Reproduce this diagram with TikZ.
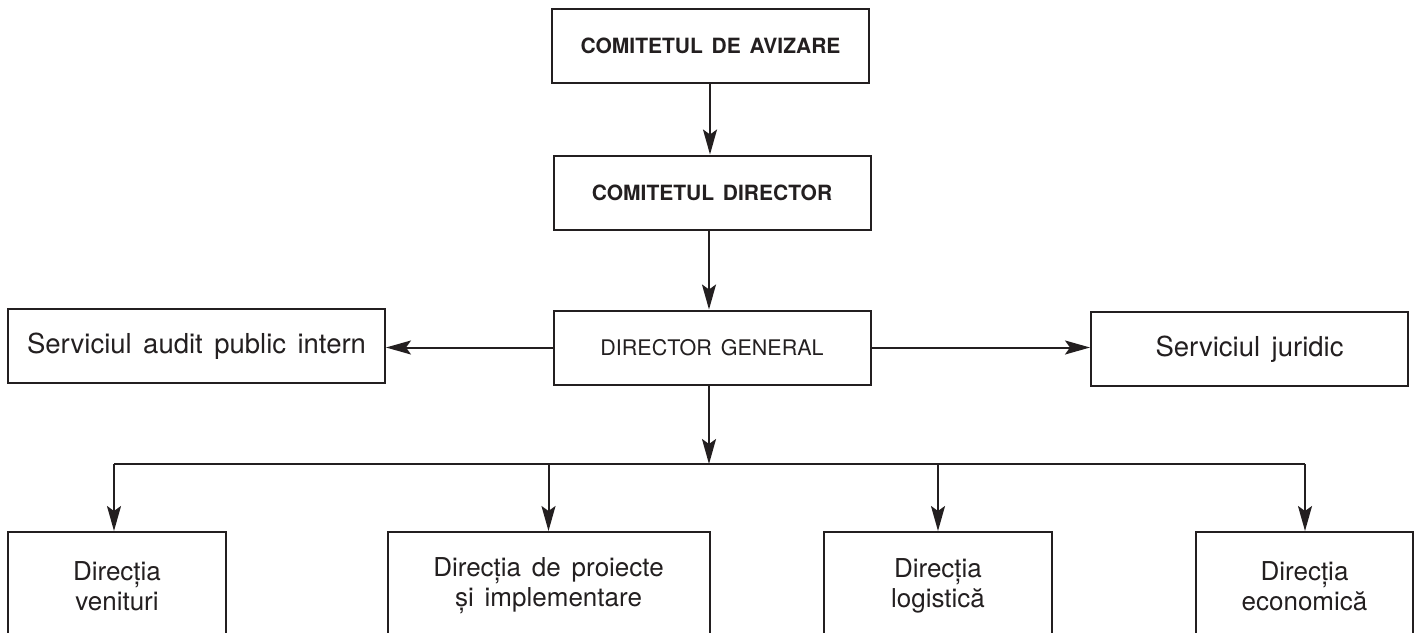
\documentclass[tikz,border=0pt]{standalone}
\usepackage{fontspec}
\setmainfont{TeX Gyre Heros}[WordSpace=1.5]
\usetikzlibrary{arrows.meta}
\definecolor{ink}{HTML}{231F20}
\begin{document}
\begin{tikzpicture}[x=1pt,y=-1pt,
  box/.style={draw=ink, line width=2pt, inner sep=0pt, align=center, text=ink},
  topbox/.style={box, minimum width=317pt, minimum height=74pt, font=\fontsize{21}{25}\selectfont\bfseries},
  sidebox/.style={box, minimum height=74pt, font=\fontsize{27.5}{32}\selectfont},
  lowbox/.style={box, minimum height=108pt, font=\fontsize{26}{30}\selectfont},
  conn/.style={draw=ink, line width=2pt},
  arr/.style={conn, -{Stealth[length=25pt,width=14pt,inset=5pt]}}]
\useasboundingbox (0,0) rectangle (1419,632);
\clip (0,0) rectangle (1419,632);
\node[topbox] (av) at (710.5,46) {COMITETUL DE AVIZARE};
\node[topbox] (cd) at (712,192.5) {COMITETUL DIRECTOR};
\node[topbox, font=\fontsize{21.5}{25}\selectfont] (dg) at (712,347.5) {DIRECTOR GENERAL};
\node[sidebox, minimum width=377pt] (au) at (196.5,346) {Serviciul audit public intern};
\node[sidebox, minimum width=317pt] (ju) at (1249.5,349) {Serviciul juridic};
\node[lowbox, minimum width=218pt] (ve) at (117,586) {Direcția\\venituri};
\node[lowbox, minimum width=322pt] (pr) at (548.5,586) {Direcția de proiecte\\și implementare};
\node[lowbox, minimum width=228pt] (lo) at (938,586) {Direcția\\logistică};
\node[lowbox, minimum width=217pt] (ec) at (1304.5,586) {Direcția\\economică};
\coordinate (bus) at (709,464);
\coordinate (busL) at (114,464);
\coordinate (busR) at (1305,464);
\coordinate (c1) at (710,0);
\coordinate (c2) at (709,0);
\draw[arr] (av.south -| c1) -- (cd.north -| c1);
\draw[arr] (cd.south -| c2) -- (dg.north -| c2);
\draw[arr] (dg.west) -- (dg.west -| au.east);
\draw[arr] (dg.east) -- (dg.east -| ju.west);
\draw[arr] (dg.south -| bus) -- (bus);
\draw[conn] (busL) -- (busR);
\draw[arr] (busL) -- (busL |- ve.north);
\draw[arr] (pr.north |- bus) -- (pr.north);
\draw[arr] (lo.north |- bus) -- (lo.north);
\draw[arr] (busR) -- (busR |- ec.north);
\end{tikzpicture}
\end{document}
